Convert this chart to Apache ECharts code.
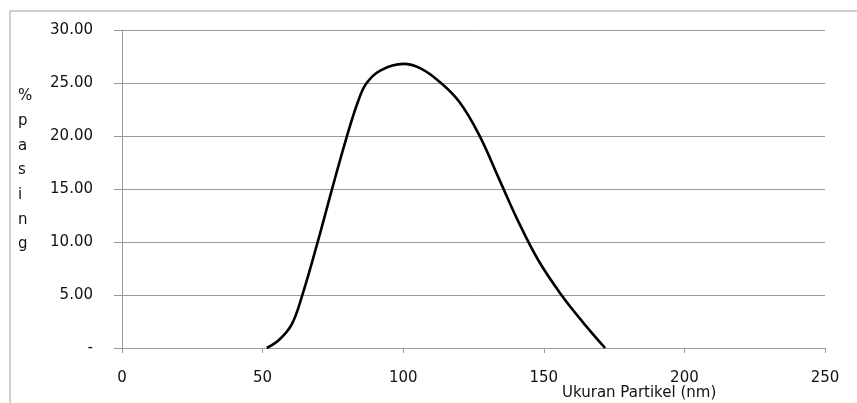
<!DOCTYPE html>
<html>
<head>
<meta charset="utf-8">
<script src="https://cdn.jsdelivr.net/npm/echarts@6/dist/echarts.min.js"></script>
<style>
html,body{margin:0;padding:0;background:#fff;}
#chart{width:857px;height:403px;}
</style>
</head>
<body>
<div id="chart"></div>
<script>
// ukuran partikel (nm) dan % pasing
var ukuran = [51.5, 56, 60.3, 63.9, 69.8, 74.6, 79.9, 84, 87, 92, 100, 106, 113, 120, 127, 134, 141, 148, 156, 164, 171.8];
var pasing = [0, 0.8, 2.2, 4.8, 10.2, 14.9, 19.9, 23.3, 25, 26.2, 26.8, 26.4, 25.1, 23.2, 20.1, 16.0, 11.9, 8.3, 5.1, 2.4, 0];
var xTicks = [0, 50, 100, 150, 200, 250];
var yTicks = [0, 5, 10, 15, 20, 25, 30];

var points = [];
for (var i = 0; i < ukuran.length; i++) {
	points.push([ukuran[i], pasing[i]]);
}

var myChart = echarts.init(document.getElementById('chart'));
var font = 'DejaVu Sans';
var option = {
	animation: false,
	grid: {left: 122, right: 32, top: 30, bottom: 55},
	graphic: [
		{
			type: 'rect',
			shape: {x: 10, y: 11, width: 900, height: 450},
			style: {fill: 'none', stroke: '#a0a0a0', lineWidth: 1},
			silent: true
		},
		{
			type: 'text',
			left: 18, top: 84,
			style: {
				text: '%\np\na\ns\ni\nn\ng',
				font: '15px "DejaVu Sans"',
				lineHeight: 24.7,
				fill: '#111'
			}
		},
		{
			type: 'text',
			left: 562, top: 386,
			style: {
				text: 'Ukuran Partikel (nm)',
				font: '15px "DejaVu Sans"',
				fill: '#111'
			}
		}
	],
	xAxis: {
		type: 'value',
		min: xTicks[0],
		max: xTicks[xTicks.length - 1],
		interval: 50,
		axisLine: {show: true, lineStyle: {color: '#999', width: 1}},
		axisTick: {show: true, length: 5, lineStyle: {color: '#999'}},
		splitLine: {show: false},
		axisLabel: {color: '#111', fontFamily: font, fontSize: 15, margin: 23}
	},
	yAxis: {
		type: 'value',
		min: yTicks[0],
		max: yTicks[yTicks.length - 1],
		interval: 5,
		axisLine: {show: true, lineStyle: {color: '#999', width: 1}},
		axisTick: {show: true, length: 8, lineStyle: {color: '#999'}},
		splitLine: {show: true, lineStyle: {color: '#999', width: 1}},
		axisLabel: {
			color: '#111', fontFamily: font, fontSize: 15, margin: 29,
			formatter: function (v) { return v === 0 ? '-' : v.toFixed(2); }
		}
	},
	series: [{
		type: 'line',
		data: points,
		smooth: 0.4,
		showSymbol: false,
		lineStyle: {color: '#000', width: 2.6}
	}]
};
myChart.setOption(option);
</script>
</body>
</html>
